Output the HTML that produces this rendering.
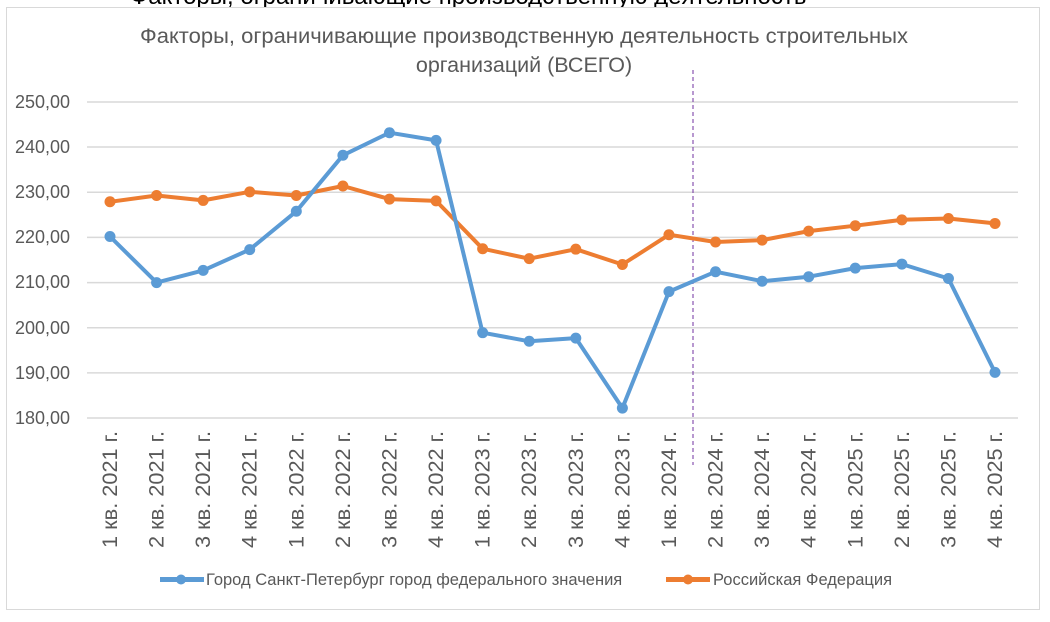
<!DOCTYPE html>
<html><head><meta charset="utf-8"><style>
body{margin:0;background:#fff;width:1050px;height:617px;overflow:hidden;font-family:"Liberation Sans","DejaVu Sans",sans-serif}
</style></head><body>
<svg width="1050" height="617" xmlns="http://www.w3.org/2000/svg" font-family="Liberation Sans, DejaVu Sans, sans-serif">
<text x="130" y="4" font-size="24" fill="#000">Факторы, ограничивающие производственную деятельность</text>
<rect x="6.5" y="7.5" width="1033" height="602" fill="#fff" stroke="#d9d9d9"/>
<text x="524" y="43" font-size="21.5" fill="#595959" text-anchor="middle" textLength="768" lengthAdjust="spacingAndGlyphs">Факторы, ограничивающие производственную деятельность строительных</text>
<text x="524" y="72" font-size="21.5" fill="#595959" text-anchor="middle">организаций (ВСЕГО)</text>
<g stroke="#d9d9d9" stroke-width="1.5">
<line x1="87" x2="1018" y1="102" y2="102"/><line x1="87" x2="1018" y1="147" y2="147"/><line x1="87" x2="1018" y1="192.3" y2="192.3"/><line x1="87" x2="1018" y1="237.4" y2="237.4"/><line x1="87" x2="1018" y1="282.6" y2="282.6"/><line x1="87" x2="1018" y1="327.7" y2="327.7"/><line x1="87" x2="1018" y1="372.9" y2="372.9"/><line x1="87" x2="1018" y1="418" y2="418"/>
</g>
<g font-size="18" fill="#595959" text-anchor="end">
<text x="70" y="108">250,00</text><text x="70" y="153">240,00</text><text x="70" y="198">230,00</text><text x="70" y="243">220,00</text><text x="70" y="288">210,00</text><text x="70" y="334">200,00</text><text x="70" y="379">190,00</text><text x="70" y="424">180,00</text>
</g>
<line x1="693" x2="693" y1="70" y2="465" stroke="#7030a0" stroke-dasharray="4,3" stroke-width="1"/>
<g id="c"></g>
<g font-size="16.5" fill="#595959">
<rect x="160" y="577" width="44" height="5" fill="#5b9bd5"/><circle cx="181" cy="579.5" r="5" fill="#5b9bd5"/>
<text x="206" y="585">Город Санкт-Петербург город федерального значения</text>
<rect x="666" y="577" width="44" height="5" fill="#ed7d31"/><circle cx="688" cy="579.5" r="5" fill="#ed7d31"/>
<text x="713" y="585">Российская Федерация</text>
</g>
</svg>
<script>
var s=[220.2,210,212.7,217.3,225.8,238.2,243.2,241.5,198.9,197,197.7,182.2,208,212.4,210.3,211.3,213.2,214.1,210.9,190.1];
var r=[227.9,229.3,228.2,230.1,229.3,231.4,228.5,228.1,217.5,215.3,217.4,214,220.6,219,219.4,221.4,222.6,223.9,224.2,223.1];
var labs=[];for(var y=2021;y<=2025;y++)for(var q=1;q<=4;q++)labs.push(q+" кв. "+y+" г.");
var g=document.getElementById('c'),h='';
function X(i){return 110+i*46.58}function Y(v){return 418-(v-180)*4.514}
function ser(d,c){var p=d.map(function(v,i){return X(i).toFixed(1)+","+Y(v).toFixed(1)}).join(" ");
h+='<polyline points="'+p+'" fill="none" stroke="'+c+'" stroke-width="4" stroke-linejoin="round"/>';
d.forEach(function(v,i){h+='<circle cx="'+X(i)+'" cy="'+Y(v)+'" r="5.5" fill="'+c+'"/>'});}
ser(r,'#ed7d31');ser(s,'#5b9bd5');
labs.forEach(function(l,i){h+='<text transform="translate('+(X(i)+7)+',431) rotate(-90)" text-anchor="end" font-size="21" fill="#595959" textLength="117" lengthAdjust="spacingAndGlyphs">'+l+'</text>'});
g.innerHTML=h;
</script>
</body></html>
